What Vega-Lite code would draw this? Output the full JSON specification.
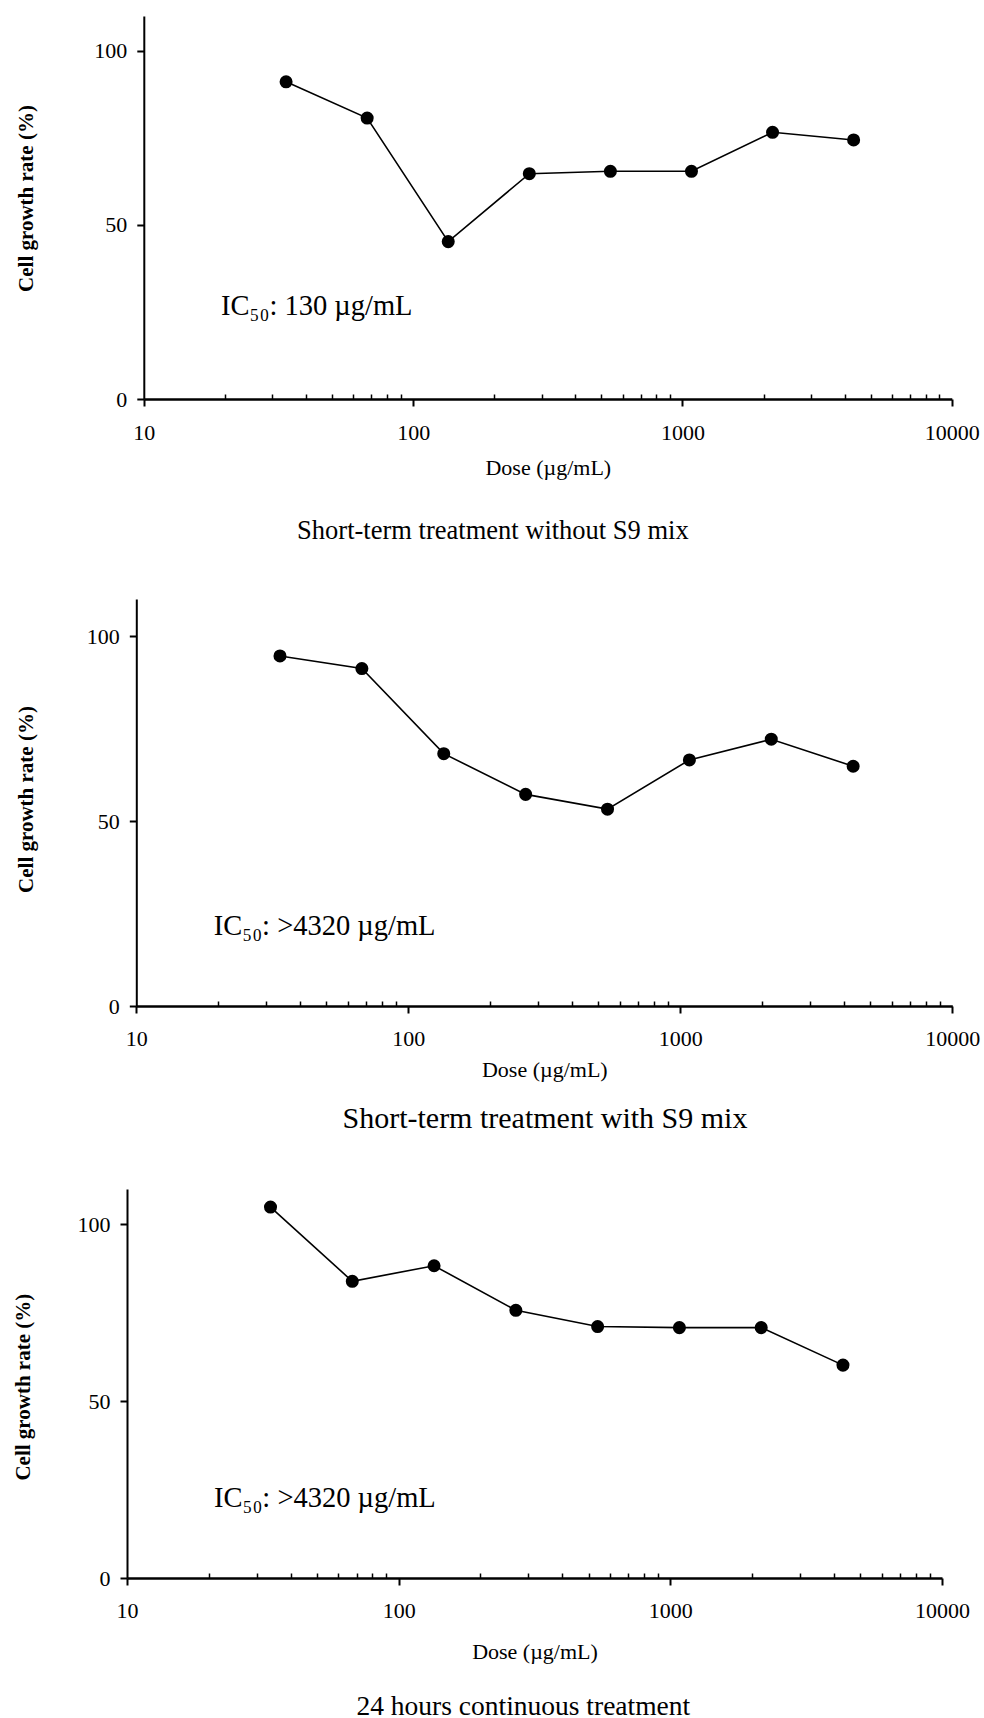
{
  "$schema": "https://vega.github.io/schema/vega-lite/v6.json",
  "background": "white",
  "padding": {"left": 12, "top": 16, "right": 5, "bottom": 0},
  "spacing": 55,
  "datasets": {
    "p1": [
      {"dose": 33.75, "rate": 91.1},
      {"dose": 67.5, "rate": 80.7},
      {"dose": 135, "rate": 45.2},
      {"dose": 270, "rate": 64.7},
      {"dose": 540, "rate": 65.4},
      {"dose": 1080, "rate": 65.4},
      {"dose": 2160, "rate": 76.6},
      {"dose": 4320, "rate": 74.4}
    ],
    "p2": [
      {"dose": 33.75, "rate": 94.6},
      {"dose": 67.5, "rate": 91.2},
      {"dose": 135, "rate": 68.2},
      {"dose": 270, "rate": 57.2},
      {"dose": 540, "rate": 53.2},
      {"dose": 1080, "rate": 66.5},
      {"dose": 2160, "rate": 72.1},
      {"dose": 4320, "rate": 64.8}
    ],
    "p3": [
      {"dose": 33.75, "rate": 104.9},
      {"dose": 67.5, "rate": 83.9},
      {"dose": 135, "rate": 88.3},
      {"dose": 270, "rate": 75.7},
      {"dose": 540, "rate": 71.1},
      {"dose": 1080, "rate": 70.8},
      {"dose": 2160, "rate": 70.8},
      {"dose": 4320, "rate": 60.2}
    ],
    "l1": [{"dose": 19.35, "rate": 24.1, "label": "IC₅₀: 130 µg/mL"}],
    "l2": [{"dose": 19.26, "rate": 19.2, "label": "IC₅₀: >4320 µg/mL"}],
    "l3": [{"dose": 20.9, "rate": 20.1, "label": "IC₅₀: >4320 µg/mL"}]
  },
  "config": {
    "view": {"stroke": null},
    "font": "Liberation Serif",
    "axis": {
      "labelFont": "Liberation Serif",
      "titleFont": "Liberation Serif",
      "domainColor": "black",
      "tickColor": "black",
      "labelColor": "black",
      "titleColor": "black",
      "grid": false,
      "labelOverlap": false
    },
    "title": {"font": "Liberation Serif", "fontSize": 27, "fontWeight": "normal", "color": "black"}
  },
  "vconcat": [
    {
      "width": 824.8,
      "height": 383,
      "title": {"text": "Short-term treatment without S9 mix", "orient": "bottom", "offset": 39, "frame": "group", "anchor": "middle", "dx": -46.5, "fontSize": 26.5},
      "layer": [
        {
          "data": {"name": "p1"},
          "mark": {"type": "line", "color": "black", "strokeWidth": 1.6},
          "encoding": {
            "x": {"field": "dose", "type": "quantitative", "scale": {"type": "log", "domain": [10, 10000], "range": [16.8, 824.8]},
              "axis": {"orient": "bottom", "values": [10, 100, 1000, 10000], "format": "d", "title": "Dose (µg/mL)", "labelFontSize": 22, "titleFontSize": 22, "titleFontWeight": "normal", "tickSize": 7, "tickWidth": 2, "domainWidth": 2.5, "labelPadding": 16.5, "titlePadding": 14, "labelFlush": false}},
            "y": {"field": "rate", "type": "quantitative", "scale": {"domain": [0, 110], "nice": false},
              "axis": {"orient": "left", "offset": -16.8, "values": [0, 50, 100], "title": "Cell growth rate  (%)", "titleFontSize": 21, "titleFontWeight": "bold", "titleY": 182, "labelFontSize": 22, "tickSize": 7, "tickWidth": 2, "domainWidth": 2, "labelPadding": 10, "titlePadding": 57.5}}
          }
        },
        {
          "data": {"name": "p1"},
          "mark": {"type": "point", "filled": true, "size": 170, "color": "black", "opacity": 1},
          "encoding": {
            "x": {"field": "dose", "type": "quantitative",
              "axis": {"orient": "bottom", "values": [20, 30, 40, 50, 60, 70, 80, 90, 200, 300, 400, 500, 600, 700, 800, 900, 2000, 3000, 4000, 5000, 6000, 7000, 8000, 9000], "labels": false, "domain": false, "title": null, "tickSize": -5, "tickWidth": 1.5}},
            "y": {"field": "rate", "type": "quantitative", "axis": null}
          }
        },
        {
          "data": {"name": "l1"},
          "mark": {"type": "text", "align": "left", "baseline": "alphabetic", "fontSize": 28.5, "font": "Liberation Serif", "color": "black"},
          "encoding": {
            "x": {"field": "dose", "type": "quantitative", "axis": null},
            "y": {"field": "rate", "type": "quantitative", "axis": null},
            "text": {"field": "label"}
          }
        }
      ],
      "resolve": {"axis": {"x": "independent", "y": "independent"}}
    },
    {
      "width": 825.3,
      "height": 407,
      "title": {"text": "Short-term treatment with S9 mix", "orient": "bottom", "offset": 23, "frame": "group", "anchor": "middle", "dx": 5.3, "fontSize": 30},
      "layer": [
        {
          "data": {"name": "p2"},
          "mark": {"type": "line", "color": "black", "strokeWidth": 1.6},
          "encoding": {
            "x": {"field": "dose", "type": "quantitative", "scale": {"type": "log", "domain": [10, 10000], "range": [9.3, 825.3]},
              "axis": {"orient": "bottom", "values": [10, 100, 1000, 10000], "format": "d", "title": "Dose (µg/mL)", "labelFontSize": 22, "titleFontSize": 22, "titleFontWeight": "normal", "tickSize": 7, "tickWidth": 2, "domainWidth": 2.5, "labelPadding": 15.5, "titlePadding": 10, "labelFlush": false}},
            "y": {"field": "rate", "type": "quantitative", "scale": {"domain": [0, 110], "nice": false},
              "axis": {"orient": "left", "offset": -9.3, "values": [0, 50, 100], "title": "Cell growth rate  (%)", "titleFontSize": 21, "titleFontWeight": "bold", "titleY": 200, "labelFontSize": 22, "tickSize": 7, "tickWidth": 2, "domainWidth": 2, "labelPadding": 10, "titlePadding": 50}}
          }
        },
        {
          "data": {"name": "p2"},
          "mark": {"type": "point", "filled": true, "size": 170, "color": "black", "opacity": 1},
          "encoding": {
            "x": {"field": "dose", "type": "quantitative",
              "axis": {"orient": "bottom", "values": [20, 30, 40, 50, 60, 70, 80, 90, 200, 300, 400, 500, 600, 700, 800, 900, 2000, 3000, 4000, 5000, 6000, 7000, 8000, 9000], "labels": false, "domain": false, "title": null, "tickSize": -5, "tickWidth": 1.5}},
            "y": {"field": "rate", "type": "quantitative", "axis": null}
          }
        },
        {
          "data": {"name": "l2"},
          "mark": {"type": "text", "align": "left", "baseline": "alphabetic", "fontSize": 28.5, "font": "Liberation Serif", "color": "black"},
          "encoding": {
            "x": {"field": "dose", "type": "quantitative", "axis": null},
            "y": {"field": "rate", "type": "quantitative", "axis": null},
            "text": {"field": "label"}
          }
        }
      ],
      "resolve": {"axis": {"x": "independent", "y": "independent"}}
    },
    {
      "width": 815,
      "height": 389,
      "title": {"text": "24 hours continuous treatment", "orient": "bottom", "offset": 30, "frame": "group", "anchor": "middle", "dx": -11.2, "fontSize": 27.5},
      "layer": [
        {
          "data": {"name": "p3"},
          "mark": {"type": "line", "color": "black", "strokeWidth": 1.6},
          "encoding": {
            "x": {"field": "dose", "type": "quantitative", "scale": {"type": "log", "domain": [10, 10000], "range": [0, 815]},
              "axis": {"orient": "bottom", "values": [10, 100, 1000, 10000], "format": "d", "title": "Dose (µg/mL)", "labelFontSize": 22, "titleFontSize": 22, "titleFontWeight": "normal", "tickSize": 7, "tickWidth": 2, "domainWidth": 2.5, "labelPadding": 15.5, "titlePadding": 20, "labelFlush": false}},
            "y": {"field": "rate", "type": "quantitative", "scale": {"domain": [0, 110], "nice": false},
              "axis": {"orient": "left", "values": [0, 50, 100], "title": "Cell growth rate  (%)", "titleFontSize": 21, "titleFontWeight": "bold", "titleY": 197.7, "labelFontSize": 22, "tickSize": 7, "tickWidth": 2, "domainWidth": 2, "labelPadding": 10, "titlePadding": 43.7}}
          }
        },
        {
          "data": {"name": "p3"},
          "mark": {"type": "point", "filled": true, "size": 170, "color": "black", "opacity": 1},
          "encoding": {
            "x": {"field": "dose", "type": "quantitative",
              "axis": {"orient": "bottom", "values": [20, 30, 40, 50, 60, 70, 80, 90, 200, 300, 400, 500, 600, 700, 800, 900, 2000, 3000, 4000, 5000, 6000, 7000, 8000, 9000], "labels": false, "domain": false, "title": null, "tickSize": -5, "tickWidth": 1.5}},
            "y": {"field": "rate", "type": "quantitative", "axis": null}
          }
        },
        {
          "data": {"name": "l3"},
          "mark": {"type": "text", "align": "left", "baseline": "alphabetic", "fontSize": 28.5, "font": "Liberation Serif", "color": "black"},
          "encoding": {
            "x": {"field": "dose", "type": "quantitative", "axis": null},
            "y": {"field": "rate", "type": "quantitative", "axis": null},
            "text": {"field": "label"}
          }
        }
      ],
      "resolve": {"axis": {"x": "independent", "y": "independent"}}
    }
  ]
}
